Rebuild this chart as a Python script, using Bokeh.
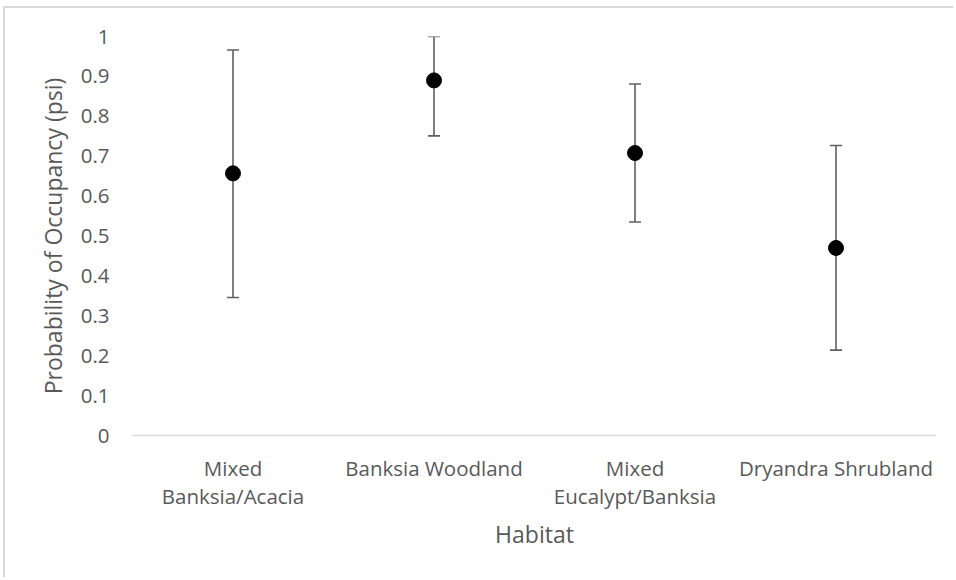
from bokeh.plotting import figure
from bokeh.models import (ColumnDataSource, Whisker, Range1d, FixedTicker,
                          LinearAxis, InlineStyleSheet)
from bokeh.embed import file_html
from bokeh.resources import INLINE

habitats = ["Mixed Banksia/Acacia", "Banksia Woodland", "Mixed Eucalypt/Banksia", "Dryandra Shrubland"]
label_line1 = ["Mixed", "Banksia Woodland", "Mixed", "Dryandra Shrubland"]
label_line2 = ["Banksia/Acacia", " ", "Eucalypt/Banksia", " "]
psi = [0.657, 0.890, 0.708, 0.470]
lower = [0.346, 0.751, 0.535, 0.214]
upper = [0.966, 1.000, 0.881, 0.727]
y_ticks = [0, 0.1, 0.2, 0.3, 0.4, 0.5, 0.6, 0.7, 0.8, 0.9, 1]

TEXT = "#595959"
FONT = "Open Sans"
LBL = "20.5px"
TTL = "23px"

xpos = list(range(len(habitats)))
src = ColumnDataSource(dict(x=xpos, habitat=habitats, psi=psi, lower=lower, upper=upper))

p = figure(width=950, height=571, x_range=Range1d(-0.5, len(habitats) - 0.5),
           y_range=Range1d(0, 1), output_backend="svg", toolbar_location=None,
           min_border_left=127, min_border_right=19, min_border_top=28, min_border_bottom=144)
p.stylesheets = [InlineStyleSheet(css=":host { margin-left: 3px; margin-top: 6px; "
                                      "border-left: 2px solid #d9d9d9; border-top: 2px solid #d9d9d9; }")]
p.outline_line_color = None
p.grid.grid_line_color = None

w = Whisker(source=src, base="x", lower="lower", upper="upper", line_color="#5f5f5f", line_width=1.6)
for h in (w.upper_head, w.lower_head):
    h.size = 12
    h.line_color = "#5f5f5f"
    h.line_width = 1.6
p.add_layout(w)
p.scatter("x", "psi", source=src, size=15, color="black")

# x axis, first line of category labels
xa = p.xaxis[0]
xa.ticker = FixedTicker(ticks=xpos)
xa.axis_line_color = "#d9d9d9"
xa.axis_line_width = 1.5
xa.major_tick_line_color = None
xa.minor_tick_line_color = None
xa.major_label_overrides = dict(zip(xpos, label_line1))
xa.major_label_text_font = FONT
xa.major_label_text_font_size = LBL
xa.major_label_text_color = TEXT
xa.major_label_standoff = 12

# second axis below: second line of category labels and the title
xb = LinearAxis(ticker=FixedTicker(ticks=xpos))
xb.axis_line_color = None
xb.major_tick_line_color = None
xb.minor_tick_line_color = None
xb.major_label_overrides = dict(zip(xpos, label_line2))
xb.major_label_text_font = FONT
xb.major_label_text_font_size = LBL
xb.major_label_text_color = TEXT
xb.major_label_standoff = -9
xb.axis_label = "Habitat"
xb.axis_label_text_font = FONT
xb.axis_label_text_font_size = TTL
xb.axis_label_text_font_style = "normal"
xb.axis_label_text_color = TEXT
xb.axis_label_standoff = 5
p.add_layout(xb, "below")

# y axis
ya = p.yaxis[0]
ya.ticker = FixedTicker(ticks=y_ticks)
ya.major_label_overrides = {t: f"{t:g}" for t in y_ticks}
ya.axis_line_color = None
ya.major_tick_line_color = None
ya.minor_tick_line_color = None
ya.major_label_text_font = FONT
ya.major_label_text_font_size = LBL
ya.major_label_text_color = TEXT
ya.major_label_standoff = 17
ya.axis_label = "Probability of Occupancy (psi)"
ya.axis_label_text_font = FONT
ya.axis_label_text_font_size = TTL
ya.axis_label_text_font_style = "normal"
ya.axis_label_text_color = TEXT
ya.axis_label_standoff = 9

open("out.html", "w").write(file_html(p, INLINE))
